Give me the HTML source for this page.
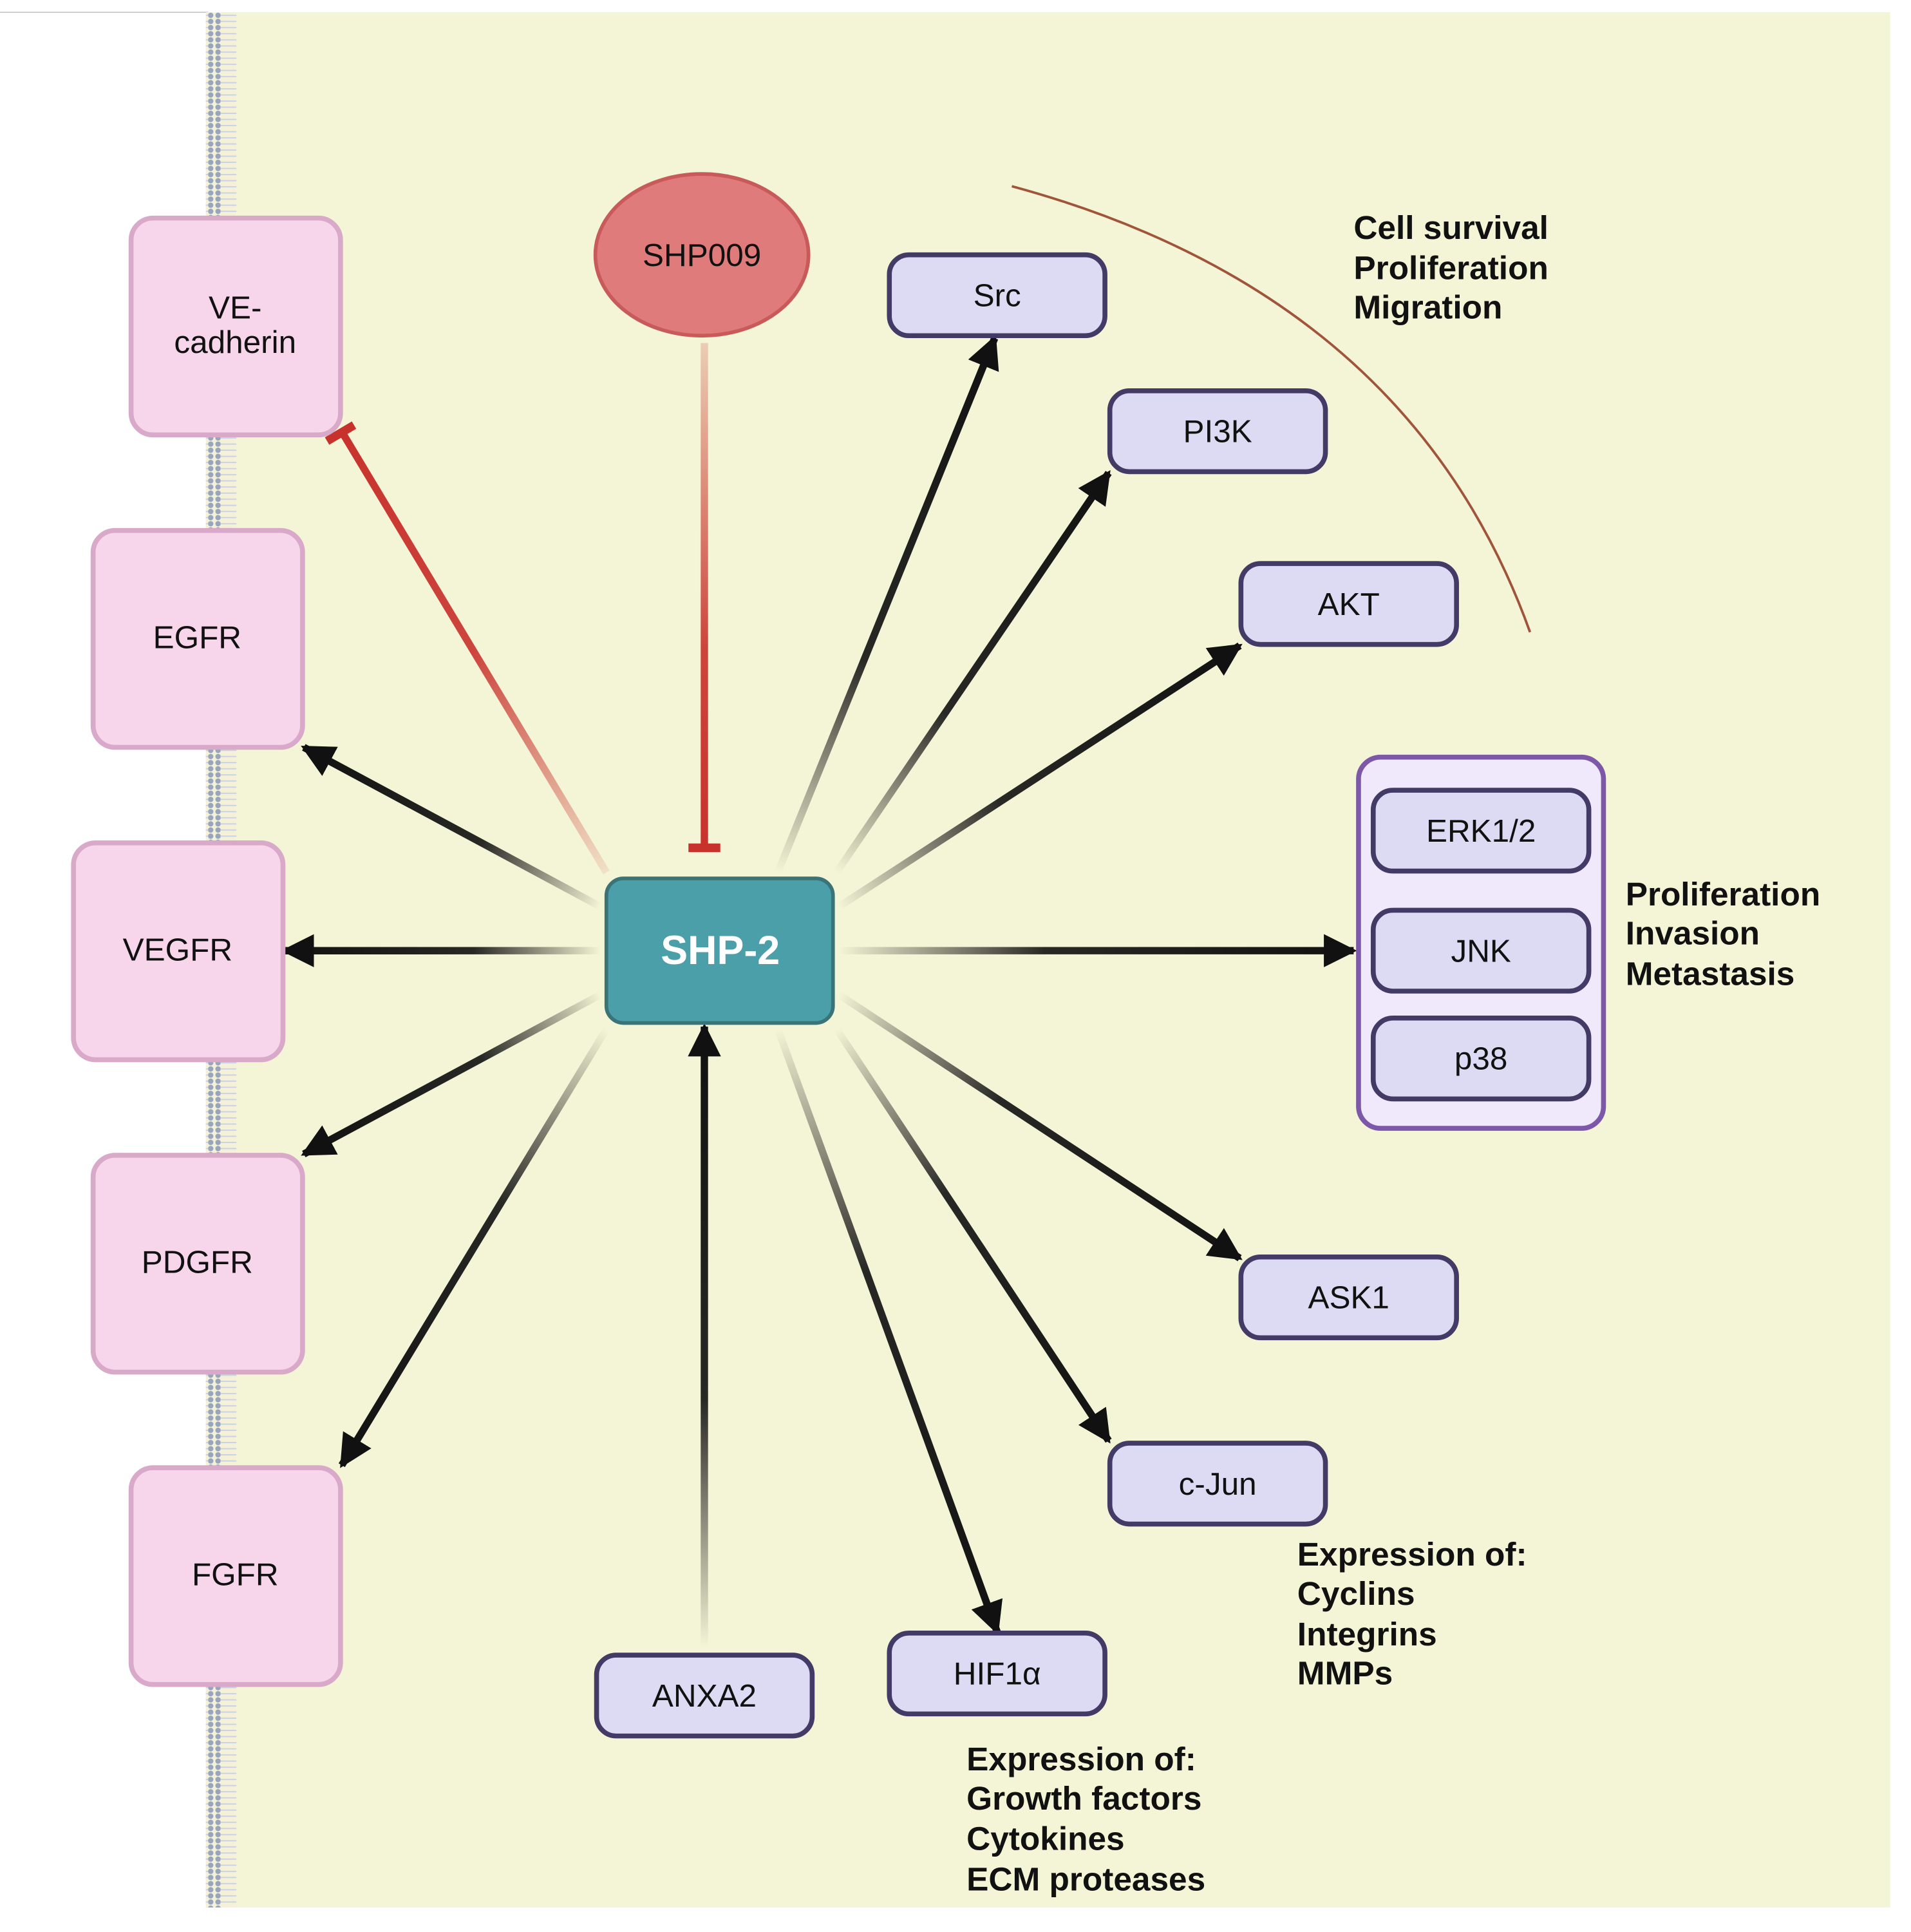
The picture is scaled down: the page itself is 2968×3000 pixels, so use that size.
<!DOCTYPE html>
<html><head><meta charset="utf-8"><style>
html,body{margin:0;padding:0;background:#fff;}
svg{display:block;}
text{font-family:"Liberation Sans",sans-serif;}
</style></head><body>
<svg width="2968" height="3000" viewBox="0 0 1560 1577" preserveAspectRatio="none" xmlns="http://www.w3.org/2000/svg">
<defs>
<pattern id="mem" x="0" y="0" width="25" height="5" patternUnits="userSpaceOnUse">
<rect width="25" height="5" fill="#f4f1d8"/>
<circle cx="3" cy="2.5" r="2.2" fill="#98a6bd"/>
<circle cx="22" cy="2.5" r="2.2" fill="#98a6bd"/>
<line x1="5" y1="2.5" x2="20" y2="2.5" stroke="#c8d2e4" stroke-width="1"/>
</pattern>
<marker id="ah" viewBox="0 0 10 10" refX="9" refY="5" markerWidth="4.5" markerHeight="4.5" orient="auto" markerUnits="strokeWidth">
<path d="M0,0 L10,5 L0,10 z" fill="#111"/>
</marker>
</defs>
<rect width="1560" height="1577" fill="#fff"/>
<line x1="0" y1="10" x2="170" y2="10" stroke="#ccc" stroke-width="1"/>
<rect x="190" y="10" width="1353" height="1547" fill="#f4f4d6"/>
<rect x="168" y="10" width="25" height="1547" fill="url(#mem)"/>

<path d="M826,152 Q1150,240 1249,516" fill="none" stroke="#a0553a" stroke-width="2"/>

<defs>
<linearGradient id="g1" gradientUnits="userSpaceOnUse" x1="635" y1="712" x2="812" y2="276"><stop offset="0" stop-color="#111" stop-opacity="0"/><stop offset="0.4" stop-color="#111" stop-opacity="0.9"/><stop offset="1" stop-color="#111"/></linearGradient>
<linearGradient id="g2" gradientUnits="userSpaceOnUse" x1="683" y1="712" x2="905" y2="386"><stop offset="0" stop-color="#111" stop-opacity="0"/><stop offset="0.4" stop-color="#111" stop-opacity="0.9"/><stop offset="1" stop-color="#111"/></linearGradient>
<linearGradient id="g3" gradientUnits="userSpaceOnUse" x1="685" y1="740" x2="1012" y2="527"><stop offset="0" stop-color="#111" stop-opacity="0"/><stop offset="0.4" stop-color="#111" stop-opacity="0.9"/><stop offset="1" stop-color="#111"/></linearGradient>
<linearGradient id="g4" gradientUnits="userSpaceOnUse" x1="685" y1="776" x2="1105" y2="776"><stop offset="0" stop-color="#111" stop-opacity="0"/><stop offset="0.4" stop-color="#111" stop-opacity="0.9"/><stop offset="1" stop-color="#111"/></linearGradient>
<linearGradient id="g5" gradientUnits="userSpaceOnUse" x1="685" y1="812" x2="1012" y2="1027"><stop offset="0" stop-color="#111" stop-opacity="0"/><stop offset="0.4" stop-color="#111" stop-opacity="0.9"/><stop offset="1" stop-color="#111"/></linearGradient>
<linearGradient id="g6" gradientUnits="userSpaceOnUse" x1="683" y1="840" x2="905" y2="1176"><stop offset="0" stop-color="#111" stop-opacity="0"/><stop offset="0.4" stop-color="#111" stop-opacity="0.9"/><stop offset="1" stop-color="#111"/></linearGradient>
<linearGradient id="g7" gradientUnits="userSpaceOnUse" x1="635" y1="840" x2="814" y2="1332"><stop offset="0" stop-color="#111" stop-opacity="0"/><stop offset="0.4" stop-color="#111" stop-opacity="0.9"/><stop offset="1" stop-color="#111"/></linearGradient>
<linearGradient id="g8" gradientUnits="userSpaceOnUse" x1="575" y1="1345" x2="575" y2="838"><stop offset="0" stop-color="#111" stop-opacity="0"/><stop offset="0.4" stop-color="#111" stop-opacity="0.9"/><stop offset="1" stop-color="#111"/></linearGradient>
<linearGradient id="g9" gradientUnits="userSpaceOnUse" x1="490" y1="740" x2="248" y2="610"><stop offset="0" stop-color="#111" stop-opacity="0"/><stop offset="0.4" stop-color="#111" stop-opacity="0.9"/><stop offset="1" stop-color="#111"/></linearGradient>
<linearGradient id="g10" gradientUnits="userSpaceOnUse" x1="490" y1="776" x2="232" y2="776"><stop offset="0" stop-color="#111" stop-opacity="0"/><stop offset="0.4" stop-color="#111" stop-opacity="0.9"/><stop offset="1" stop-color="#111"/></linearGradient>
<linearGradient id="g11" gradientUnits="userSpaceOnUse" x1="490" y1="812" x2="248" y2="942"><stop offset="0" stop-color="#111" stop-opacity="0"/><stop offset="0.4" stop-color="#111" stop-opacity="0.9"/><stop offset="1" stop-color="#111"/></linearGradient>
<linearGradient id="g12" gradientUnits="userSpaceOnUse" x1="495" y1="840" x2="279" y2="1196"><stop offset="0" stop-color="#111" stop-opacity="0"/><stop offset="0.4" stop-color="#111" stop-opacity="0.9"/><stop offset="1" stop-color="#111"/></linearGradient>
<linearGradient id="gr1" gradientUnits="userSpaceOnUse" x1="495" y1="712" x2="278" y2="352"><stop offset="0" stop-color="#c8322c" stop-opacity="0.1"/><stop offset="0.5" stop-color="#c8322c" stop-opacity="0.9"/><stop offset="1" stop-color="#c8322c"/></linearGradient>
<linearGradient id="gr2" gradientUnits="userSpaceOnUse" x1="575" y1="280" x2="575" y2="693"><stop offset="0" stop-color="#c8322c" stop-opacity="0.2"/><stop offset="0.6" stop-color="#c8322c" stop-opacity="0.9"/><stop offset="1" stop-color="#c8322c"/></linearGradient>
</defs>
<g stroke-width="6" fill="none" marker-end="url(#ah)">
<line x1="635" y1="712" x2="812" y2="276" stroke="url(#g1)"/>
<line x1="683" y1="712" x2="905" y2="386" stroke="url(#g2)"/>
<line x1="685" y1="740" x2="1012" y2="527" stroke="url(#g3)"/>
<line x1="685" y1="776" x2="1105" y2="776" stroke="url(#g4)"/>
<line x1="685" y1="812" x2="1012" y2="1027" stroke="url(#g5)"/>
<line x1="683" y1="840" x2="905" y2="1176" stroke="url(#g6)"/>
<line x1="635" y1="840" x2="814" y2="1332" stroke="url(#g7)"/>
<line x1="575" y1="1345" x2="575.01" y2="838" stroke="url(#g8)"/>
<line x1="490" y1="740" x2="248" y2="610" stroke="url(#g9)"/>
<line x1="490" y1="776" x2="232" y2="776.01" stroke="url(#g10)"/>
<line x1="490" y1="812" x2="248" y2="942" stroke="url(#g11)"/>
<line x1="495" y1="840" x2="279" y2="1196" stroke="url(#g12)"/>
</g>
<line x1="495" y1="712" x2="280" y2="354" stroke="url(#gr1)" stroke-width="6"/>
<line x1="267" y1="360" x2="289" y2="347" stroke="#c8322c" stroke-width="7"/>
<line x1="575" y1="280" x2="575.01" y2="693" stroke="url(#gr2)" stroke-width="6"/>
<line x1="562" y1="692" x2="588" y2="692" stroke="#c8322c" stroke-width="7"/>

<g fill="#f7d6ec" stroke="#d9a9c9" stroke-width="4">
<rect x="107" y="178" width="171" height="177" rx="18"/>
<rect x="76" y="433" width="171" height="177" rx="18"/>
<rect x="60" y="688" width="171" height="177" rx="18"/>
<rect x="76" y="943" width="171" height="177" rx="18"/>
<rect x="107" y="1198" width="171" height="177" rx="18"/>
</g>
<g font-size="26" text-anchor="middle" fill="#111">
<text x="192" y="260">VE-</text>
<text x="192" y="288">cadherin</text>
<text x="161" y="529">EGFR</text>
<text x="145" y="784">VEGFR</text>
<text x="161" y="1039">PDGFR</text>
<text x="192" y="1294">FGFR</text>
</g>

<ellipse cx="573" cy="208" rx="87" ry="66" fill="#e07b7b" stroke="#c85a5a" stroke-width="3"/>
<text x="573" y="217" font-size="26" text-anchor="middle" fill="#111">SHP009</text>

<rect x="495" y="717" width="185" height="118" rx="14" fill="#4a9fa8" stroke="#3a7478" stroke-width="3"/>
<text x="588" y="787" font-size="33" font-weight="bold" text-anchor="middle" fill="#fff">SHP-2</text>

<rect x="1109" y="618" width="200" height="303" rx="18" fill="#efe9fb" stroke="#7d58a8" stroke-width="4"/>
<g fill="#dddbf3" stroke="#433a66" stroke-width="4">
<rect x="726" y="208" width="176" height="66" rx="16"/>
<rect x="906" y="319" width="176" height="66" rx="16"/>
<rect x="1013" y="460" width="176" height="66" rx="16"/>
<rect x="1121" y="645" width="176" height="66" rx="16"/>
<rect x="1121" y="743" width="176" height="66" rx="16"/>
<rect x="1121" y="831" width="176" height="66" rx="16"/>
<rect x="1013" y="1026" width="176" height="66" rx="16"/>
<rect x="906" y="1178" width="176" height="66" rx="16"/>
<rect x="726" y="1333" width="176" height="66" rx="16"/>
<rect x="487" y="1351" width="176" height="66" rx="16"/>
</g>
<g font-size="26" text-anchor="middle" fill="#111">
<text x="814" y="250">Src</text>
<text x="994" y="361">PI3K</text>
<text x="1101" y="502">AKT</text>
<text x="1209" y="687">ERK1/2</text>
<text x="1209" y="785">JNK</text>
<text x="1209" y="873">p38</text>
<text x="1101" y="1068">ASK1</text>
<text x="994" y="1220">c-Jun</text>
<text x="814" y="1375">HIF1α</text>
<text x="575" y="1393">ANXA2</text>
</g>

<g font-size="27" font-weight="bold" fill="#111">
<text x="1105" y="195">Cell survival</text>
<text x="1105" y="228">Proliferation</text>
<text x="1105" y="260">Migration</text>
<text x="1327" y="739">Proliferation</text>
<text x="1327" y="771">Invasion</text>
<text x="1327" y="804">Metastasis</text>
<text x="1059" y="1278">Expression of:</text>
<text x="1059" y="1310">Cyclins</text>
<text x="1059" y="1343">Integrins</text>
<text x="1059" y="1375">MMPs</text>
<text x="789" y="1445">Expression of:</text>
<text x="789" y="1477">Growth factors</text>
<text x="789" y="1510">Cytokines</text>
<text x="789" y="1543">ECM proteases</text>
</g>
</svg>
</body></html>
